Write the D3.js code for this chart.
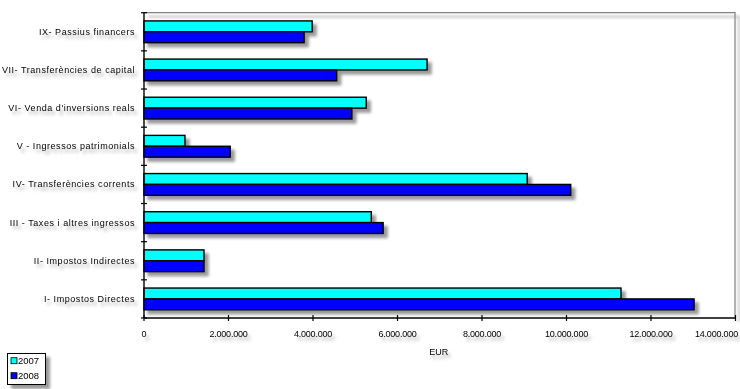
<!DOCTYPE html>
<html>
<head>
<meta charset="utf-8">
<script src="https://cdn.jsdelivr.net/npm/d3@7"></script>
<style>
html,body{margin:0;padding:0;background:#fff;}
svg{display:block;}
text{font-family:"Liberation Sans",Arial,sans-serif;}
</style>
</head>
<body>
<svg id="chart" width="740" height="389"></svg>
<script>
const categories = [
  "IX- Passius financers",
  "VII- Transferències de capital",
  "VI- Venda d'inversions reals",
  "V - Ingressos patrimonials",
  "IV- Transferències corrents",
  "III - Taxes i altres ingressos",
  "II- Impostos Indirectes",
  "I- Impostos Directes"
];
const seriesNames = ["2007", "2008"];
const values2007 = [3980000, 6700000, 5260000, 970000, 9070000, 5380000, 1420000, 11290000];
const values2008 = [3790000, 4560000, 4920000, 2040000, 10100000, 5660000, 1420000, 13020000];
const xTicks = [0, 2000000, 4000000, 6000000, 8000000, 10000000, 12000000, 14000000];
const colors = ["#00FFFF", "#0000FF"];
const axisTitle = "EUR";

(function(){
const svg = d3.select("#chart");
const defs = svg.append("defs");
const f = defs.append("filter").attr("id","shadow").attr("x","-20%").attr("y","-50%").attr("width","150%").attr("height","250%");
f.append("feGaussianBlur").attr("in","SourceAlpha").attr("stdDeviation",1.8).attr("result","b");
f.append("feOffset").attr("in","b").attr("dx",4).attr("dy",4).attr("result","o");
f.append("feComponentTransfer").attr("in","o").attr("result","s")
  .append("feFuncA").attr("type","linear").attr("slope",0.4);
const m = f.append("feMerge");
m.append("feMergeNode").attr("in","s");
m.append("feMergeNode").attr("in","SourceGraphic");

const tf = defs.append("filter").attr("id","tshadow").attr("x","-20%").attr("y","-50%").attr("width","150%").attr("height","300%");
tf.append("feGaussianBlur").attr("in","SourceAlpha").attr("stdDeviation",1.6).attr("result","b");
tf.append("feOffset").attr("in","b").attr("dx",3).attr("dy",4).attr("result","o");
tf.append("feComponentTransfer").attr("in","o").attr("result","s")
  .append("feFuncA").attr("type","linear").attr("slope",0.3);
const tm = tf.append("feMerge");
tm.append("feMergeNode").attr("in","s");
tm.append("feMergeNode").attr("in","SourceGraphic");

const pl = 144, pr = 735.5, pt = 12.7, pb = 318;
const x = d3.scaleLinear().domain([0, 14000000]).range([pl, pr]);
const y = d3.scaleBand().domain(categories).range([pt, pb]).paddingInner(0.43).paddingOuter(0.215);
const ySub = d3.scaleBand().domain(seriesNames).range([0, y.bandwidth()]);
const step = y.step();

const frame = svg.append("g").attr("filter","url(#shadow)");
frame.append("path")
  .attr("d", `M${pl},${pt}H${pr-0.5}V${pb}`)
  .attr("fill","none").attr("stroke","#808080").attr("stroke-width",1.2);

const data = categories.map((c,i)=>({cat:c, vals:[values2007[i], values2008[i]]}));
const barsG = svg.append("g").attr("filter","url(#shadow)");
data.forEach(d=>{
  d.vals.forEach((v,j)=>{
    barsG.append("rect")
      .attr("x", x(0))
      .attr("y", y(d.cat) + ySub(seriesNames[j]))
      .attr("width", x(v) - x(0))
      .attr("height", ySub.bandwidth())
      .attr("fill", colors[j])
      .attr("stroke","#000").attr("stroke-width",1.4);
  });
});

const fmt = d3.formatLocale({decimal:",", thousands:".", grouping:[3], currency:["",""]}).format(",");
const axG = svg.append("g");
axG.append("line").attr("x1",pl).attr("x2",pl).attr("y1",pt).attr("y2",pb).attr("stroke","#000").attr("stroke-width",1.4);
axG.append("line").attr("x1",pl).attr("x2",pr).attr("y1",pb).attr("y2",pb).attr("stroke","#000").attr("stroke-width",1.4);
for(let i=0;i<=categories.length;i++){
  const yy = pt + i*step;
  axG.append("line").attr("x1",pl-3).attr("x2",pl+3).attr("y1",yy).attr("y2",yy).attr("stroke","#000").attr("stroke-width",1.2);
}
xTicks.forEach(t=>{
  axG.append("line").attr("x1",x(t)).attr("x2",x(t)).attr("y1",pb-3).attr("y2",pb+3).attr("stroke","#000").attr("stroke-width",1.2);
});

const txt = svg.append("g").attr("filter","url(#tshadow)").attr("font-size","9px").attr("fill","#000");
categories.forEach(c=>{
  txt.append("text").attr("x",135).attr("y", y(c) + y.bandwidth()/2 + 3)
    .attr("text-anchor","end").attr("letter-spacing","0.55px").text(c);
});
xTicks.forEach((t,i)=>{
  const last = i === xTicks.length-1;
  txt.append("text").attr("x", last ? 738 : x(t)).attr("y",336.5)
    .attr("text-anchor", last ? "end" : "middle").attr("letter-spacing","-0.2px").text(fmt(t));
});
txt.append("text").attr("x",(pl+pr)/2 - 1).attr("y",355).attr("text-anchor","middle").text(axisTitle);

const lg = svg.append("g").attr("filter","url(#shadow)");
lg.append("rect").attr("x",7.5).attr("y",353.5).attr("width",38).attr("height",31).attr("fill","#fff").attr("stroke","#000").attr("stroke-width",1);
seriesNames.forEach((s,j)=>{
  const cy = 360.7 + j*15;
  lg.append("rect").attr("x",11).attr("y",cy-3).attr("width",6).attr("height",6).attr("fill",colors[j]).attr("stroke","#000").attr("stroke-width",0.8);
  lg.append("text").attr("x",18).attr("y",cy+3.5).attr("font-size","9.5px").text(s);
});
})();
</script>
</body>
</html>
